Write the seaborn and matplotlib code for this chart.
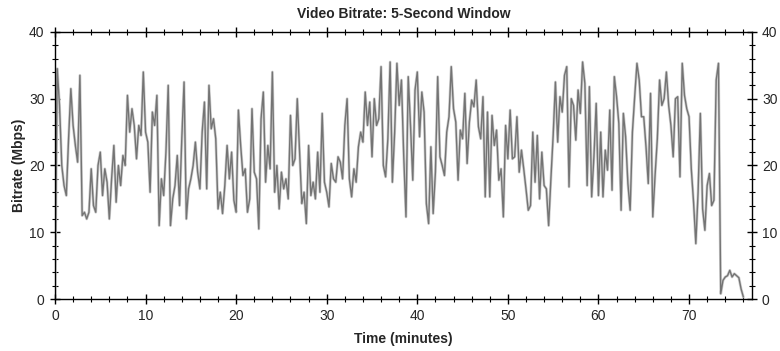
import numpy as np
import pandas as pd
import matplotlib
matplotlib.use("Agg")
import matplotlib.pyplot as plt
from matplotlib.ticker import MultipleLocator
import seaborn as sns

# bitrate (Mbps), one reading every quarter minute
rate_00_13 = [0, 34.5, 29, 20, 17, 15.5, 24, 31.5, 26, 23, 20.5, 33.5, 12.5, 13, 12, 13,
              19.5, 14, 13, 20, 22, 15.5, 19.5, 17.5, 12, 18, 23, 14.5, 20, 17, 21.5, 20,
              30.5, 25, 28.5, 26, 21, 26, 24.5, 34, 25, 23.5, 16, 28, 26, 30.5, 11, 18,
              15.5, 22, 32, 11, 15]
rate_13_26 = [17, 21.5, 14, 24, 32.5, 12, 16.5, 18, 20, 23.5, 19, 16.5, 25, 29.5, 16.5, 32,
              25.5, 27, 24, 13.5, 16, 12.8, 17, 23, 18, 22, 14.8, 13, 28.3, 23, 18.5, 19.5,
              13, 15, 28.5, 19, 18, 10.5, 27, 31, 17.5, 23, 19.5, 34, 16, 20, 13.5, 19,
              16.5, 18, 15, 27.5, 20]
rate_26_39 = [21, 30, 22, 14.3, 16, 11.3, 23, 15.5, 17.5, 15, 22, 16, 27.8, 17.5, 16, 13.8,
              20.3, 18, 17.5, 21.3, 20.5, 18, 26, 30, 18, 15.3, 19.5, 17.5, 22.8, 25, 23.5, 31,
              26, 29.5, 21.3, 30, 26, 27, 34.8, 20, 18.3, 24, 35.5, 17.5, 25, 35.3, 29, 32.8,
              21.5, 12.3, 33.3, 26, 17.8]
rate_39_52 = [31.3, 34, 24.3, 31, 28, 14.3, 11.3, 22.8, 12.8, 19, 33.3, 21.3, 20, 18.5, 25, 27.3,
              34.8, 28.5, 26.5, 17.8, 25.3, 24, 30.8, 20.3, 26.5, 29.8, 28.8, 32.8, 25.8, 24, 30.3, 15.3,
              28, 15.3, 27.5, 23, 25.3, 17.8, 19.5, 12.3, 26, 21, 28.3, 21, 21.3, 27.3, 19, 22.3,
              19.5, 16.5, 13.3, 14, 25]
rate_53_66 = [17.5, 24.5, 15, 22, 17, 16.5, 11, 18, 24.5, 32.5, 23.5, 30.3, 28, 33.5, 34.8, 16.8,
              30, 29, 23.8, 31.3, 27.8, 35.5, 32.3, 17, 31.8, 15.3, 21.3, 29.3, 15.5, 25, 15.3, 22.3,
              19.3, 28.3, 16.3, 33.3, 30.3, 26.3, 13.3, 27.8, 24.3, 17.3, 13.3, 25, 30.3, 35.3, 32.8, 27.3,
              27.3, 22.8, 17.3, 30.8, 12.3]
rate_66_76 = [18.5, 24, 32.8, 29, 30, 34, 29, 26, 21.3, 30, 30.3, 18.3, 35.3, 30.5, 28.5, 27.3,
              19.5, 14.5, 8.3, 16, 27.8, 13.5, 10.3, 17, 18.8, 14, 14.8, 32.8, 35.3, 0.8, 2.8, 3.3,
              3.5, 4.3, 3.3, 3.8, 3.5, 3.2, 1.5, 0.3]

bitrate = rate_00_13 + rate_13_26 + rate_26_39 + rate_39_52 + rate_53_66 + rate_66_76
step_min = 0.25
x_ticks = [0, 10, 20, 30, 40, 50, 60, 70]
y_ticks = [0, 10, 20, 30, 40]

df = pd.DataFrame({"time": np.arange(len(bitrate)) * step_min, "bitrate": bitrate})

sns.set_style("ticks")
plt.rcParams['font.family'] = ['Liberation Sans', 'DejaVu Sans']

fig = plt.figure(figsize=(7.8, 3.51), dpi=100)
ax = fig.add_axes([0.0705, 0.148, 0.893, 0.761])

# light halo under the dark trace, like the original's smoothed edges
sns.lineplot(data=df, x="time", y="bitrate", ax=ax, color="#cfcfcf", linewidth=2.0)
sns.lineplot(data=df, x="time", y="bitrate", ax=ax, color="#747474", linewidth=1.0)

ax.set_xlim(0, 76.9)
ax.set_ylim(0, 40)
ax.set_xticks(x_ticks)
ax.set_yticks(y_ticks)
ax.xaxis.set_minor_locator(MultipleLocator(2))
ax.yaxis.set_minor_locator(MultipleLocator(2))
ax.tick_params(which="major", direction="inout", length=7, width=1, color="black",
               top=True, right=True, labelright=True, labelsize=10, pad=4)
ax.tick_params(which="minor", direction="inout", length=4, width=0.8, color="black",
               top=True, right=True)
for s in ax.spines.values():
    s.set_linewidth(1)
    s.set_color("black")

ax.set_xlabel("Time (minutes)", fontsize=10, fontweight="bold", labelpad=6)
ax.set_ylabel("Bitrate (Mbps)", fontsize=10, fontweight="bold", labelpad=2)
ax.set_title("Video Bitrate: 5-Second Window", fontsize=10, fontweight="bold", pad=10)

fig.savefig("out.png", dpi=100)
